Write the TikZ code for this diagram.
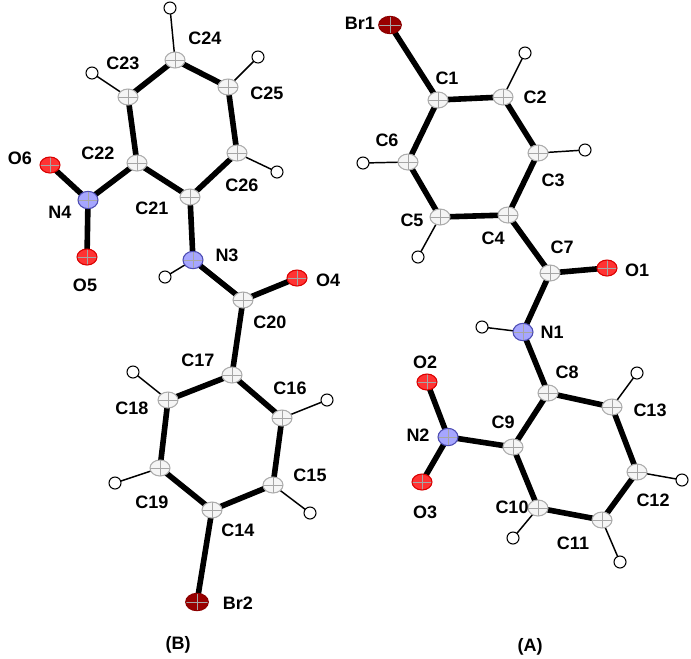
\documentclass[tikz,border=0pt]{standalone}
\usepackage{fontspec}
\setmainfont{Liberation Sans}
\usetikzlibrary{shapes.geometric}
\begin{document}
\begin{tikzpicture}[x=0.75pt,y=-0.75pt,
 bond/.style={line width=4.2pt,line cap=round},
 hbond/.style={line width=1.1pt},
 xcross/.style={path picture={\draw[gray!70,line width=0.5pt] (path picture bounding box.north) -- (path picture bounding box.south) (path picture bounding box.west) -- (path picture bounding box.east);}},
 catom/.style={ellipse,draw=gray!65,line width=0.8pt,fill=gray!8,minimum width=15pt,minimum height=12pt,inner sep=0pt,xcross},
 natom/.style={ellipse,draw=blue!40!gray,line width=0.8pt,fill=blue!35!white,minimum width=15pt,minimum height=13pt,inner sep=0pt,xcross},
 oatom/.style={ellipse,draw=red!85!black,line width=0.8pt,fill=red!80,minimum width=15pt,minimum height=12pt,inner sep=0pt,xcross},
 bratom/.style={ellipse,draw=red!55!black,line width=0.8pt,fill=red!60!black,minimum width=17pt,minimum height=13pt,inner sep=0pt,xcross},
 hatom/.style={circle,draw=black,line width=0.8pt,fill=white,minimum size=9pt,inner sep=0pt},
 lab/.style={font=\fontsize{13.5}{15}\selectfont\bfseries,inner sep=0pt}]
\useasboundingbox (0,0) rectangle (691,658);
% coordinates molecule A
\coordinate (Br1) at (390,25);\coordinate (C1) at (438,100);\coordinate (C2) at (503,97);
\coordinate (C3) at (538,153);\coordinate (C4) at (508,215);\coordinate (C5) at (440,217);
\coordinate (C6) at (408,162);\coordinate (C7) at (550,273);\coordinate (O1) at (607,268);
\coordinate (N1) at (523,332);\coordinate (C8) at (548,393);\coordinate (C9) at (513,447);
\coordinate (C10) at (538,508);\coordinate (C11) at (602,520);\coordinate (C12) at (637,472);
\coordinate (C13) at (612,407);\coordinate (N2) at (448,437);\coordinate (O2) at (427,382);
\coordinate (O3) at (422,482);
\coordinate (H2) at (525,53);\coordinate (H3) at (585,150);\coordinate (H6) at (363,163);
\coordinate (H5) at (418,257);\coordinate (HN1) at (482,327);\coordinate (H13) at (637,373);
\coordinate (H12) at (682,480);\coordinate (H11) at (620,562);\coordinate (H10) at (513,538);
% molecule B
\coordinate (C24) at (175,60);\coordinate (C23) at (128,97);\coordinate (C25) at (228,87);
\coordinate (C22) at (137,163);\coordinate (C26) at (237,153);\coordinate (C21) at (190,197);
\coordinate (N4) at (88,200);\coordinate (O6) at (50,165);\coordinate (O5) at (87,257);
\coordinate (N3) at (193,260);\coordinate (C20) at (243,300);\coordinate (O4) at (297,278);
\coordinate (C17) at (232,375);\coordinate (C18) at (168,400);\coordinate (C16) at (282,418);
\coordinate (C19) at (160,468);\coordinate (C15) at (273,485);\coordinate (C14) at (212,510);
\coordinate (Br2) at (197,602);
\coordinate (H24) at (170,8);\coordinate (H23) at (92,73);\coordinate (H25) at (258,57);
\coordinate (H26) at (277,172);\coordinate (HN3) at (165,277);\coordinate (H18) at (133,372);
\coordinate (H16) at (327,400);\coordinate (H19) at (115,483);\coordinate (H15) at (310,513);
% bonds
\draw[bond] (Br1)--(C1) (C1)--(C2)--(C3)--(C4)--(C5)--(C6)--(C1) (C4)--(C7)--(O1) (C7)--(N1)--(C8)--(C9)--(C10)--(C11)--(C12)--(C13)--(C8) (C9)--(N2)--(O2) (N2)--(O3);
\draw[bond] (C21)--(C22)--(C23)--(C24)--(C25)--(C26)--(C21) (C22)--(N4)--(O6) (N4)--(O5) (C21)--(N3)--(C20)--(O4) (C20)--(C17)--(C18)--(C19)--(C14)--(C15)--(C16)--(C17) (C14)--(Br2);
\draw[hbond] (C2)--(H2) (C3)--(H3) (C6)--(H6) (C5)--(H5) (N1)--(HN1) (C13)--(H13) (C12)--(H12) (C11)--(H11) (C10)--(H10)
 (C24)--(H24) (C23)--(H23) (C25)--(H25) (C26)--(H26) (N3)--(HN3) (C18)--(H18) (C16)--(H16) (C19)--(H19) (C15)--(H15);
% atoms
\foreach \a in {C1,C2,C3,C4,C5,C6,C7,C8,C9,C10,C11,C12,C13,C14,C15,C16,C17,C18,C19,C20,C21,C22,C23,C24,C25,C26}
 \node[catom] (a\a) at (\a) {};
\foreach \a in {N1,N2,N3,N4} \node[natom] (a\a) at (\a) {};
\foreach \a in {O1,O2,O3,O4,O5,O6} \node[oatom] (a\a) at (\a) {};
\foreach \a in {Br1,Br2} \node[bratom] (a\a) at (\a) {};
\foreach \a in {H2,H3,H5,H6,HN1,H10,H11,H12,H13,H15,H16,H18,H19,H23,H24,H25,H26,HN3} \node[hatom] (a\a) at (\a) {};
% labels
\node[lab] (lBr1) at (360,23) {Br1}; \node[lab] (lC1) at (447,78) {C1};
\node[lab] (lC2) at (535,97) {C2}; \node[lab] (lC3) at (553,180) {C3};
\node[lab] (lC4) at (493,238) {C4}; \node[lab] (lC5) at (412,220) {C5};
\node[lab] (lC6) at (387,140) {C6}; \node[lab] (lC7) at (562,247) {C7};
\node[lab] (lO1) at (637,270) {O1}; \node[lab] (lN1) at (552,332) {N1};
\node[lab] (lC8) at (567,372) {C8}; \node[lab] (lC9) at (503,422) {C9};
\node[lab] (lC10) at (512,507) {C10}; \node[lab] (lC11) at (573,543) {C11};
\node[lab] (lC12) at (653,500) {C12}; \node[lab] (lC13) at (650,410) {C13};
\node[lab] (lN2) at (418,435) {N2}; \node[lab] (lO2) at (425,362) {O2};
\node[lab] (lO3) at (425,512) {O3}; \node[lab] (lA) at (530,647) {(A)};
\node[lab] (lC24) at (205,38) {C24}; \node[lab] (lC23) at (123,63) {C23};
\node[lab] (lC25) at (267,93) {C25}; \node[lab] (lC22) at (98,153) {C22};
\node[lab] (lC26) at (242,185) {C26}; \node[lab] (lC21) at (152,208) {C21};
\node[lab] (lN4) at (60,212) {N4}; \node[lab] (lO6) at (20,158) {O6};
\node[lab] (lO5) at (85,285) {O5}; \node[lab] (lN3) at (227,255) {N3};
\node[lab] (lC20) at (270,322) {C20}; \node[lab] (lO4) at (328,280) {O4};
\node[lab] (lC17) at (198,360) {C17}; \node[lab] (lC18) at (132,408) {C18};
\node[lab] (lC16) at (290,388) {C16}; \node[lab] (lC19) at (152,502) {C19};
\node[lab] (lC15) at (310,475) {C15}; \node[lab] (lC14) at (238,530) {C14};
\node[lab] (lBr2) at (238,603) {Br2}; \node[lab] (lB) at (178,645) {(B)};
\end{tikzpicture}
\end{document}
